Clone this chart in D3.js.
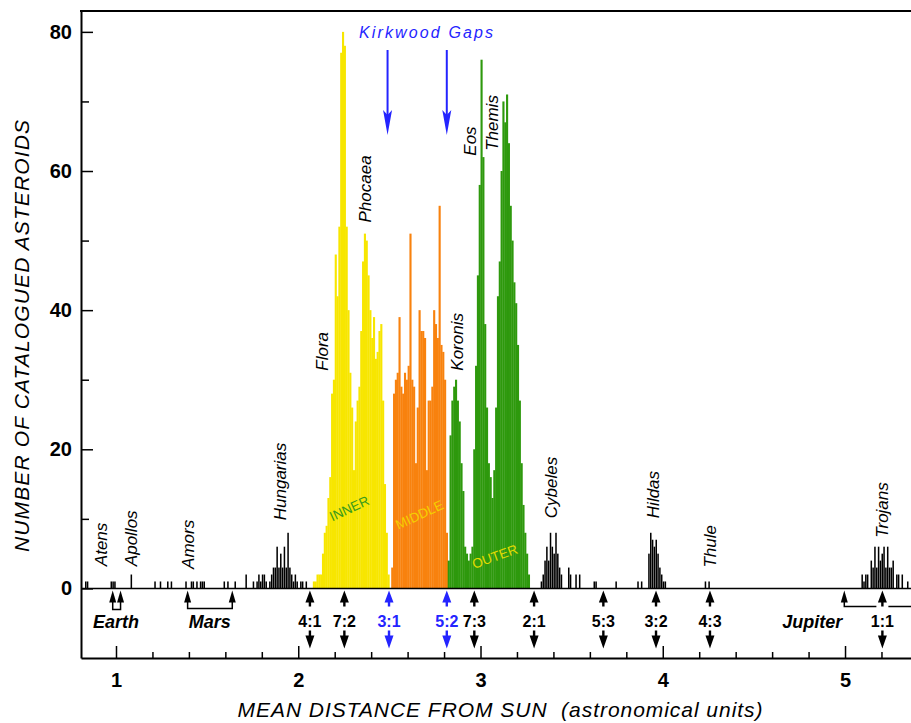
<!DOCTYPE html>
<html>
<head>
<meta charset="utf-8">
<script src="https://cdn.jsdelivr.net/npm/d3@7"></script>
<style>
  body { margin: 0; background: #fff; }
  svg { display: block; }
  text { font-family: "Liberation Sans", Arial, sans-serif; }
</style>
</head>
<body>
<div id="chart"></div>
<script>
// histogram bins, 0.01 AU wide
var binWidth = 0.01;

// main belt (counts per bin)
var innerStart = 2.08;
var innerCounts = [1, 1, 2, 2, 2, 5, 8, 9, 13, 16, 28, 30, 48, 42, 52, 77, 80, 78, 52, 40,
                   31, 26, 17, 24, 27, 29, 37, 47, 51, 50, 45, 40, 36, 39, 33, 34, 37, 38, 27, 15,
                   8, 2];
var middleStart = 2.51;
var middleCounts = [3, 28, 30, 31, 39, 29, 28, 31, 30, 32, 51, 30, 29, 18, 26, 40, 37, 37, 36, 17,
                    27, 27, 29, 40, 38, 36, 55, 35, 34, 30, 8];
var outerStart = 2.82;
var outerCounts = [4, 22, 27, 29, 30, 27, 24, 18, 14, 6, 5, 4, 5, 6, 20, 32, 45, 58, 76, 62,
                   38, 26, 18, 16, 13, 17, 26, 42, 47, 60, 70, 67, 71, 64, 55, 50, 44, 41, 35, 27,
                   18, 12, 8, 5, 2];

// everything outside the main belt (black bars)
var otherAU = [0.83, 0.84, 0.97, 0.98, 0.99, 1.08, 1.21, 1.24, 1.28, 1.30, 1.38, 1.41, 1.42, 1.44,
               1.46, 1.47, 1.48, 1.59, 1.61, 1.65, 1.71,
               1.75, 1.77, 1.78, 1.79, 1.80, 1.81, 1.82, 1.84, 1.85, 1.86, 1.87, 1.88, 1.89, 1.90,
               1.91, 1.92, 1.93, 1.94, 1.95, 1.96, 1.97, 1.98, 1.99, 2.01, 2.02, 2.04,
               3.33, 3.34, 3.35, 3.36, 3.37, 3.38, 3.39, 3.40, 3.41, 3.42, 3.43, 3.44, 3.48, 3.49,
               3.52, 3.54, 3.62, 3.63, 3.74, 3.86, 3.88,
               3.92, 3.93, 3.94, 3.95, 3.96, 3.97, 3.98, 3.99, 4.00, 4.01, 4.23, 4.25,
               5.09, 5.10, 5.11, 5.12, 5.14, 5.15, 5.16, 5.17, 5.18, 5.19, 5.20, 5.21, 5.22, 5.23,
               5.24, 5.25, 5.26, 5.28, 5.29, 5.31, 5.34];
var otherCounts = [1, 1, 1, 1, 1, 2, 1, 1, 1, 1, 1, 1, 1, 1,
                   1, 1, 1, 1, 1, 1, 2,
                   1, 1, 2, 1, 2, 2, 1, 1, 2, 3, 3, 6, 3, 5,
                   3, 6, 3, 8, 3, 2, 1, 2, 1, 1, 1, 1,
                   1, 2, 4, 6, 4, 8, 6, 5, 8, 5, 3, 2, 3, 2,
                   2, 2, 1, 1, 1, 1, 1,
                   5, 8, 7, 6, 7, 5, 3, 2, 1, 1, 1, 1,
                   2, 1, 2, 2, 4, 3, 6, 3, 6, 4, 5, 6, 3, 6,
                   3, 3, 4, 2, 2, 2, 1];

// axis ticks
var yMajor = [0, 20, 40, 60, 80];
var yMinor = [10, 30, 50, 70];
var xMajor = [1, 2, 3, 4, 5];
var xMinor = [1.2, 1.4, 1.6, 1.8, 2.2, 2.4, 2.6, 2.8, 3.2, 3.4, 3.6, 3.8, 4.2, 4.4, 4.6, 4.8, 5.2];

// family names: [name, AU, count at the foot of the label]
var families = [["Atens", 0.918, 3.2], ["Apollos", 1.082, 3.2], ["Amors", 1.395, 2.8],
                ["Hungarias", 1.90, 9.8], ["Flora", 2.13, 31.3], ["Phocaea", 2.366, 52.6],
                ["Koronis", 2.871, 31.3], ["Eos", 2.942, 62.2], ["Themis", 3.063, 62.9],
                ["Cybeles", 3.387, 10.1], ["Hildas", 3.947, 10.1], ["Thule", 4.259, 3.0],
                ["Trojans", 5.203, 7.3]];

// resonances with Jupiter
var resLabels = ["4:1", "7:2", "3:1", "5:2", "7:3", "2:1", "5:3", "3:2", "4:3", "1:1"];
var resAU = [2.064, 2.253, 2.498, 2.815, 2.966, 3.294, 3.674, 3.963, 4.259, 5.205];
var kirkwoodAU = [2.49, 2.815];

var width = 911, height = 723;
var svg = d3.select("#chart").append("svg")
    .attr("width", width)
    .attr("height", height);

var x = d3.scaleLinear().domain([0.808, 5.362]).range([81, 911]);
var y = d3.scaleLinear().domain([-10, 83]).range([658, 11]);
var y0 = y(0);

var yellow = "#f7e600", orange = "#f8820e", green = "#2e990d", blue = "#2424ff";

function addBins(start, counts, color) {
  svg.append("g").selectAll("rect")
    .data(counts)
    .enter().append("rect")
      .attr("x", function(d, i) { return x(start + i * binWidth); })
      .attr("width", function(d, i) { return x(start + (i + 1) * binWidth) - x(start + i * binWidth) + 0.3; })
      .attr("y", function(d) { return y(d); })
      .attr("height", function(d) { return y0 - y(d); })
      .attr("fill", color);
}
addBins(innerStart, innerCounts, yellow);
addBins(middleStart, middleCounts, orange);
addBins(outerStart, outerCounts, green);

svg.append("g").selectAll("rect")
  .data(otherAU)
  .enter().append("rect")
    .attr("x", function(d) { return x(d); })
    .attr("width", function(d) { return x(d + binWidth) - x(d) - 0.3; })
    .attr("y", function(d, i) { return y(otherCounts[i]); })
    .attr("height", function(d, i) { return y0 - y(otherCounts[i]); })
    .attr("fill", "#000");

// zero line and top frame
svg.append("line").attr("x1", 81).attr("x2", 911).attr("y1", y0).attr("y2", y0)
  .attr("stroke", "#000").attr("stroke-width", 1.5);
svg.append("line").attr("x1", 80).attr("x2", 911).attr("y1", y(83)).attr("y2", y(83))
  .attr("stroke", "#000").attr("stroke-width", 2);

// Y axis
svg.append("g").attr("transform", "translate(81,0)")
  .call(d3.axisLeft(y).tickValues(yMajor).tickSize(-12).tickSizeOuter(0).tickPadding(9));
svg.append("g").attr("transform", "translate(81,0)")
  .call(d3.axisLeft(y).tickValues(yMinor).tickSize(-8).tickFormat(""))
  .select(".domain").remove();

// X axis
svg.append("g").attr("transform", "translate(0," + y(-10) + ")")
  .call(d3.axisBottom(x).tickValues(xMajor).tickFormat(d3.format("d"))
    .tickSize(-12).tickSizeOuter(0).tickPadding(15));
svg.append("g").attr("transform", "translate(0," + y(-10) + ")")
  .call(d3.axisBottom(x).tickValues(xMinor).tickSize(-6).tickFormat(""))
  .select(".domain").remove();

svg.selectAll(".domain").attr("stroke-width", 2);
svg.selectAll(".tick line").attr("stroke-width", 1.5);
svg.selectAll(".tick text")
  .attr("font-family", "'Liberation Sans', Arial, sans-serif")
  .attr("font-size", 20).attr("font-weight", "bold");

// axis titles
svg.append("text")
  .attr("transform", "translate(22,336) rotate(-90)")
  .attr("text-anchor", "middle").attr("dy", "0.35em")
  .attr("font-size", 21).attr("font-style", "italic")
  .attr("textLength", 432).attr("lengthAdjust", "spacing")
  .text("NUMBER OF CATALOGUED ASTEROIDS");
svg.append("text")
  .attr("x", 500).attr("y", 717)
  .attr("text-anchor", "middle")
  .attr("font-size", 21).attr("font-style", "italic")
  .attr("textLength", 525).attr("lengthAdjust", "spacing")
  .style("white-space", "pre")
  .text("MEAN DISTANCE FROM SUN  (astronomical units)");

// family names
svg.append("g").selectAll("text")
  .data(families)
  .enter().append("text")
    .attr("transform", function(d) { return "translate(" + x(d[1]) + "," + y(d[2]) + ") rotate(-90)"; })
    .attr("dy", "0.35em")
    .attr("font-size", 17).attr("font-style", "italic")
    .text(function(d) { return d[0]; });

// zone names
var zones = [["INNER", 2.28, 11.5, -25, "#3a9a1c"], ["MIDDLE", 2.665, 10.6, -25, "#f5cf00"],
             ["OUTER", 3.078, 4.6, -20, "#e4dc00"]];
svg.append("g").selectAll("text")
  .data(zones)
  .enter().append("text")
    .attr("transform", function(d) { return "translate(" + x(d[1]) + "," + y(d[2]) + ") rotate(" + d[3] + ")"; })
    .attr("text-anchor", "middle").attr("dy", "0.35em")
    .attr("font-family", "'DejaVu Sans', sans-serif")
    .attr("font-size", 13.5)
    .attr("fill", function(d) { return d[4]; })
    .text(function(d) { return d[0]; });

// resonance markers: solid arrowheads above and below the ratio
var res = svg.append("g").selectAll("g")
  .data(resLabels)
  .enter().append("g")
    .attr("transform", function(d, i) { return "translate(" + x(resAU[i]) + ",0)"; })
    .attr("fill", function(d) { return (d === "3:1" || d === "5:2") ? blue : "#000"; });
res.append("path")
  .attr("d", "M0," + (y0 + 2) + "L-4.5," + (y0 + 14) + "L-1.2," + (y0 + 14) + "L-1.2," + (y0 + 18) +
             "L1.2," + (y0 + 18) + "L1.2," + (y0 + 14) + "L4.5," + (y0 + 14) + "Z");
res.append("path")
  .attr("d", "M0," + (y0 + 60) + "L-4.5," + (y0 + 47) + "L-1.2," + (y0 + 47) + "L-1.2," + (y0 + 42) +
             "L1.2," + (y0 + 42) + "L1.2," + (y0 + 47) + "L4.5," + (y0 + 47) + "Z");
res.append("text")
  .attr("y", y0 + 39).attr("text-anchor", "middle")
  .attr("font-size", 16).attr("font-weight", "bold")
  .text(function(d) { return d; });

// planets
function upArrow(px) {
  svg.append("path")
    .attr("d", "M" + px + "," + (y0 + 2) + "L" + (px - 3.5) + "," + (y0 + 14) + "L" + (px + 3.5) + "," + (y0 + 14) + "Z")
    .attr("fill", "#000");
}
var earthAU = [0.982, 1.025], marsAU = [1.393, 1.638], jupiterAU = 4.996;
[earthAU, marsAU].forEach(function(p) {
  var a = x(p[0]), b = x(p[1]), yb = p === earthAU ? y0 + 21 : y0 + 20;
  svg.append("path")
    .attr("d", "M" + a + "," + (y0 + 10) + "V" + yb + "H" + b + "V" + (y0 + 10))
    .attr("fill", "none").attr("stroke", "#000").attr("stroke-width", 1.5);
  upArrow(a); upArrow(b);
});
svg.append("path")
  .attr("d", "M" + x(jupiterAU) + "," + (y0 + 10) + "V" + (y0 + 18) + "H" + (x(resAU[9]) - 6) +
             "M" + (x(resAU[9]) + 6) + "," + (y0 + 18) + "H911")
  .attr("fill", "none").attr("stroke", "#000").attr("stroke-width", 1.5);
upArrow(x(jupiterAU));

var planets = [["Earth", 1.0], ["Mars", 1.515], ["Jupiter", 4.82]];
svg.append("g").selectAll("text")
  .data(planets)
  .enter().append("text")
    .attr("x", function(d) { return x(d[1]); })
    .attr("y", y0 + 40)
    .attr("text-anchor", "middle")
    .attr("font-size", 18).attr("font-weight", "bold").attr("font-style", "italic")
    .text(function(d) { return d[0]; });

// Kirkwood gaps
svg.append("text")
  .attr("x", 426).attr("y", 38)
  .attr("text-anchor", "middle")
  .attr("font-family", "'DejaVu Sans', sans-serif")
  .attr("font-size", 16).attr("font-style", "italic")
  .attr("textLength", 134).attr("lengthAdjust", "spacing")
  .attr("fill", blue)
  .text("Kirkwood Gaps");
var kw = svg.append("g").selectAll("g")
  .data(kirkwoodAU)
  .enter().append("g")
    .attr("transform", function(d) { return "translate(" + x(d) + ",0)"; });
kw.append("line").attr("y1", 50).attr("y2", 115)
  .attr("stroke", blue).attr("stroke-width", 2);
kw.append("path").attr("d", "M0,135L-4.5,110L0,115L4.5,110Z").attr("fill", blue);
</script>
</body>
</html>
